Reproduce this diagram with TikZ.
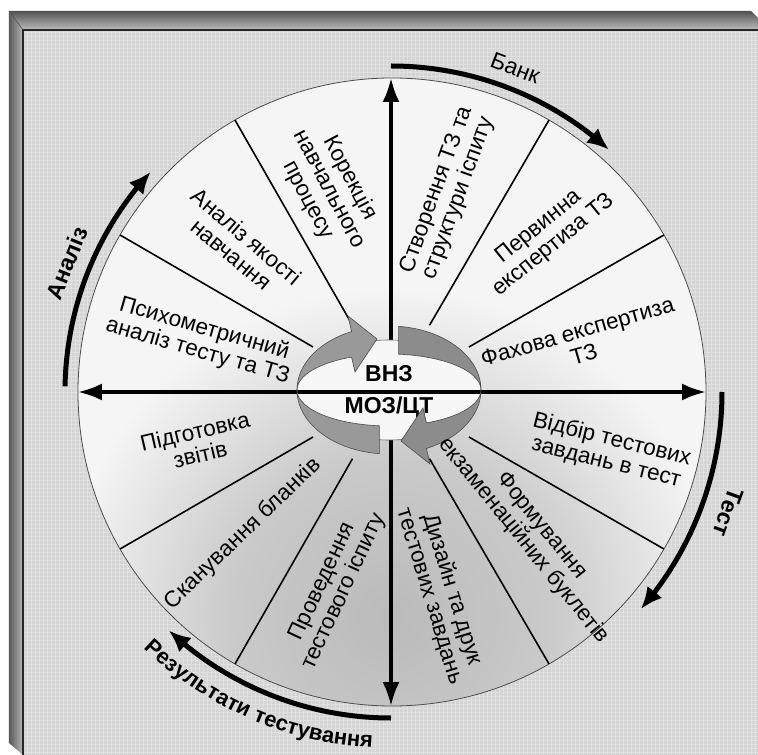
\documentclass[tikz,border=0pt]{standalone}
\usepackage{fontspec}
\setmainfont{Liberation Sans}
\usetikzlibrary{arrows.meta,bending,decorations.text,calc}
\definecolor{panelgray}{HTML}{D4D4D4}
\definecolor{panelgrid}{HTML}{E0E0E0}
\definecolor{wheelfill}{HTML}{F5F5F5}
\newcommand{\sectorfont}{\fontsize{22.5}{23.5}\selectfont}
\newcommand{\rimfont}{\fontsize{23}{26}\selectfont}
\newcommand{\hubfont}{\fontsize{23}{26}\selectfont\bfseries}
\pgfdeclareradialshading{lowglow}{\pgfpoint{0bp}{0bp}}{color(0bp)=(black!27); color(12bp)=(black!21); color(25bp)=(wheelfill); color(50bp)=(wheelfill)}
\tikzset{
    sector/.style = {align=center, font=\sectorfont, inner sep=1pt},
    spoke/.style = {line width=1.6pt, black},
    axisline/.style = {line width=3.5pt, -{Latex[length=24pt,width=17pt]}},
    rim/.style = {line width=5pt, -{Latex[length=22pt,width=19pt]}},
    rimlabel/.style = {font=\rimfont, inner sep=0pt},
    hubtext/.style = {font=\hubfont, inner sep=0pt},
    cycarrow/.style = {fill=black!40, draw=black!70, line width=0.6pt}
}

\begin{document}
\begin{tikzpicture}[x=1pt,y=1pt]
        \useasboundingbox (-391,-363) rectangle (367,392);
        \clip (-391,-363) rectangle (367,392);
        % frame
        \fill[white] (-391,-363) rectangle (367,392);
        \fill[panelgray] (-368,-363) rectangle (367,362);
        \draw[panelgrid, line width=0.6pt, step=4] (-368,-363) grid (367,362);
        \shade[top color=black!68, bottom color=black!25] (-382,381) -- (360,381) -- (379,362) -- (-368,362) -- cycle;
        \shade[left color=black!65, right color=black!28] (-382,381) -- (-368,362) -- (-368,-363) -- (-382,-351) -- cycle;
        \draw[black!85, line width=1.2pt] (-368,-363) -- (-368,362) -- (367,362);
        \draw[black!70, line width=0.6pt] (-382,381) -- (-368,362);
        % wheel
        \coordinate (hub) at (1,0);
        \fill[wheelfill] (hub) circle (314);
        \begin{scope}
            \clip (hub) circle (314);
            \shade[shading=lowglow] (0,-225) circle (330);
        \end{scope}
        \draw[black!70, line width=0.8pt] (hub) circle (314);
        \foreach \a/\r in {30/90,60/77,120/77,150/90,210/90,240/77,300/77,330/90}
            \draw[spoke] (\a:\r) -- ($(hub)+(\a:314)$);
        \draw[axisline] (0,0) -- (0,314);
        \draw[axisline] (0,0) -- (0,-314);
        % hub
        \begin{scope}[shift={(-2,2)}]
            \draw[black!60, fill=white!97!black, line width=0.6pt] (0,0) ellipse (92 and 50);
        \end{scope}
        \draw[axisline, {Latex[length=24pt,width=17pt]}-{Latex[length=24pt,width=17pt]}] (-313,0) -- (315,0);
        \node[hubtext] (vnz) at (-2,18) {ВНЗ};
        \node[hubtext] (moz) at (-2,-15) {МОЗ/ЦТ};
        \begin{scope}[shift={(-2,2)}]
            \path[cycarrow] (264:92 and 64) arc (264:114:92 and 64) -- (-41,74) -- (-12,51) -- (-34,18)
                -- (114:92 and 36) arc (114:264:92 and 36) -- cycle;
            \path[cycarrow, fill=black!45] (84:92 and 64) arc (84:-66:92 and 64) -- (41,-74) -- (12,-51) -- (34,-18)
                -- (-66:92 and 36) arc (-66:84:92 and 36) -- cycle;
        \end{scope}
        % sectors
        \node[sector, rotate=70] (create) at (74:206) {Створення ТЗ та\\структури іспиту};
        \node[sector, rotate=39] (first) at (45:220) {Первинна\\експертиза ТЗ};
        \node[sector, rotate=16] (expert) at (14.6:196) {Фахова експертиза\\ТЗ};
        \node[sector, rotate=-14] (select) at (-15.2:226) {Відбір тестових\\завдань в тест};
        \node[sector, rotate=-51] (booklet) at (-45:200) {Формування\\екзаменаційних буклетів};
        \node[sector, rotate=-73] (design) at (-76:207) {Дизайн та друк\\тестових завдань};
        \node[sector, rotate=65] (exam) at (253.6:203) {Проведення\\тестового іспиту};
        \node[sector, rotate=44] (scan) at (223.8:205) {Сканування бланків};
        \node[sector, rotate=13] (report) at (194.7:200) {Підготовка\\звітів};
        \node[sector, rotate=-16] (psycho) at (164.7:197) {Психометричний\\аналіз тесту та ТЗ};
        \node[sector, rotate=-40] (quality) at (136:211) {Аналіз якості\\навчання};
        \node[sector, rotate=-62] (correct) at (107:212) {Корекція\\навчального\\процесу};
        % rim arrows
        \draw[rim] (90:326) arc (90:48:326);
        \node[rimlabel, rotate=-21] (bank) at (69:347) {Банк};
        \draw[rim] (0:331) arc (0:-41:331);
        \node[rimlabel, font=\rimfont\bfseries, rotate=-110] (test) at (-19.7:358) {Тест};
        \draw[rim] (179:326) arc (179:137.5:326);
        \node[rimlabel, font=\rimfont\bfseries, rotate=68] (analysis) at (158.3:349) {Аналіз};
        \draw[rim] (270:326) arc (270:227:326);
        \path[decorate, decoration={text along path, text align=center,
            text={|\fontsize{22}{24}\selectfont\bfseries|Результати тестування}}] (214:356) arc (214:279:356);
\end{tikzpicture}
\end{document}
